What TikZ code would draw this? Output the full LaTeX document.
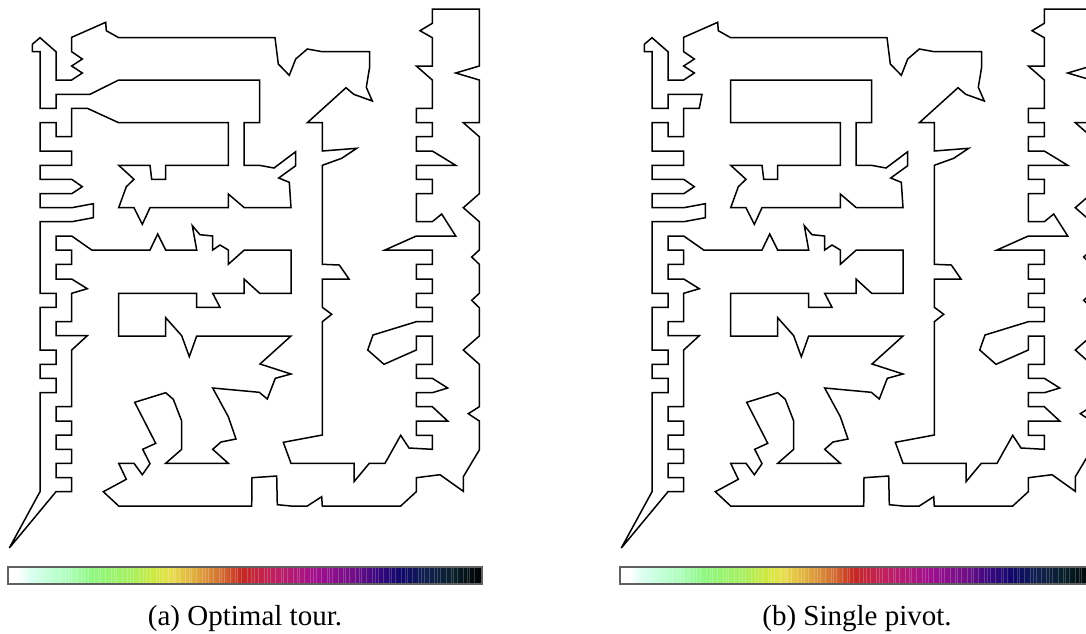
\documentclass[tikz,border=0pt]{standalone}
\usepackage{fontspec}
\setmainfont{Liberation Serif}
\pgfdeclarehorizontalshading{cbar}{100bp}{
rgb(0bp)=(1,1,1);rgb(25bp)=(1,1,1);rgb(26bp)=(1,1,1);
rgb(27.5bp)=(.85,1,.94);rgb(31.2bp)=(.69,1,.75);rgb(34bp)=(.56,.97,.5);rgb(38bp)=(.66,.94,.38);rgb(40.5bp)=(.82,.91,.25);
rgb(42bp)=(.91,.88,.31);rgb(44.5bp)=(.88,.69,.25);rgb(46.3bp)=(.85,.53,.22);rgb(48bp)=(.82,.38,.19);rgb(49.5bp)=(.78,.16,.13);
rgb(53bp)=(.75,.13,.38);rgb(57.5bp)=(.63,.06,.56);rgb(61.5bp)=(.44,.06,.53);rgb(64bp)=(.22,.03,.5);
rgb(66.5bp)=(.06,.03,.41);rgb(69bp)=(.06,.125,.31);rgb(72bp)=(.03,.125,.16);rgb(75bp)=(0,0,0);rgb(100bp)=(0,0,0)}
\tikzset{
 tourline/.style={line width=1.5pt,black},
 barframe/.style={draw=black!62,line width=1.1pt},
 capt/.style={font=\fontsize{29}{32}\selectfont,anchor=base,inner sep=0pt}
}
\def\tourA{(9.3,548)--(40,491.7)--(40,392.7)--(56,392.7)--(56,378.3)--(40,378.3)--(40,364.3)--(56,364.3)--(56,350)--(40,350)--(40,307.3)--(56,307.3)--(56,293.3)--(40,293.3)--(40,221.7)--(71.7,221.7)--(93.3,217.7)--(93.3,203.7)--(71.7,207.7)--(40,207.7)--(40,193.7)--(71.7,193.7)--(82.3,186.7)--(71.7,179.3)--(40,179.3)--(40,165.3)--(71.7,165.3)--(71.7,151)--(40,151)--(40,122.7)--(56,122.7)--(56,136.7)--(71.7,136.7)--(71.7,108.3)--(87.3,108.3)}
\def\tourB{(118.7,122.7)--(228.3,122.7)--(228.3,165.3)--(165.7,165.3)--(165.7,179.3)--(151.7,179.3)--(150,165.3)--(118.7,165.3)--(134,179.3)--(126.3,186.7)--(118.7,207.7)--(134,207.7)--(142.3,224.3)--(150,207.7)--(228.3,207.7)--(228.3,194)--(244.3,207.7)--(291,207.7)--(289.3,182.3)--(278.7,178)--(295.7,165.7)--(295.7,151.7)--(274,168)--(259.3,165.3)--(244,165.3)--(244,122.7)--(259.7,122.7)--(259.7,80)--(118.7,80)}
\def\tourC{(90,94.3)--(56,94.3)--(56,108.3)--(40,108.3)--(40,51.7)--(32.3,51.7)--(32.3,44.3)--(40,37.7)--(56,51.7)--(56,80)--(71.7,80)--(82.3,73)--(71.7,66)--(82.3,59)--(71.7,51.7)--(71.7,37.3)--(105.7,22.3)--(106.3,30.7)--(118.7,37.7)--(275,37.7)--(278.3,64)--(289.3,75.3)--(295.7,59)--(307.3,49)--(322.3,51.7)--(369.7,51.7)--(369.7,66.7)--(366.3,87.3)--(372.3,101)--(353.7,94.3)--(346,87.7)--(307.3,122.7)--(322.3,122.7)--(322.3,151)--(356.7,148.3)--(341.7,158.3)--(322.3,165.3)--(322.3,264.3)--(339.3,265)--(349,279)--(322.3,279)--(322.3,307.3)--(331.7,314.3)--(322.3,321.7)--(322.3,435)--(283.3,442.3)--(291,463.3)--(354,463.3)--(354,481.7)--(369.3,463.3)--(385,463.3)--(400.7,435.3)--(409,448)--(432.3,449.3)--(432.3,435.3)--(416.3,435.3)--(416.3,421)--(447.7,421)--(432.3,406.7)--(416.3,406.7)--(416.3,392.7)--(432.3,392.7)--(447.7,388)--(432.3,378.3)--(416.3,378.3)--(416.3,364.3)--(432.3,364.3)--(432.3,336)--(416.3,336)--(416.3,350)--(384,364.3)--(367.7,350)--(373,335)--(416.3,321.7)--(432.3,321.7)--(432.3,307.3)--(416.3,307.3)--(416.3,293.3)--(432.3,293.3)--(432.3,279)--(416.3,279)--(416.3,264.3)--(432.3,264.3)--(432.3,250)--(385,250)--(416.3,236)--(455.7,236)--(441.7,214)--(432.3,221.7)--(416.3,221.7)--(416.3,193.7)--(432.3,193.7)--(432.3,179.3)--(416.3,179.3)--(416.3,165.3)--(455.7,165.3)--(432.3,151)--(416.3,151)--(416.3,136.7)--(432.3,136.7)--(432.3,122.7)--(416.3,122.7)--(416.3,108.3)--(432.3,108.3)--(432.3,80)--(416.3,66)--(432.3,66)--(432.3,37.7)--(420,30.7)--(432.3,23.3)--(432.3,9)--(479.3,9)--(479.3,66)--(455.7,73)--(479.3,80)--(479.3,122.7)--(463.3,122.7)--(479.3,136.7)--(479.3,193.7)--(463.3,207.7)--(479.3,221.7)--(479.3,250)--(471.7,257)--(479.3,264.3)--(479.3,293.3)--(471.7,300.3)--(479.3,307.7)--(479.3,336)--(463.3,350)--(479.3,364.3)--(479.3,406.7)--(468.3,413.7)--(479.3,421)--(479.3,450)--(463.3,476.7)--(463.3,491.3)--(440,474.7)--(416.3,477.7)--(416.3,491.7)--(400.7,506)--(322.3,506)--(321.7,496.7)--(307.3,506)--(291,506)--(277.3,504.7)--(276.7,476)--(252,477.7)--(251.7,506)--(118.7,506)--(103.3,491.7)--(126.3,479.3)--(118.7,463.3)--(134,463.3)--(142.3,474.7)--(150,463.7)--(142.7,449.3)--(155.7,443.3)--(134.7,402.3)--(165.7,392.7)--(173.3,399.3)--(181.7,421)--(181.7,449.3)--(165.7,463.3)--(228.3,463.3)--(212.7,449.3)--(221,442)--(236,439)--(228.3,416.7)--(212.7,388)--(259.3,392.3)--(267.3,399)--(275.3,378.3)--(291,374)--(260,364)--(291,336)--(196.7,336)--(189.3,356.7)--(181.7,335.7)--(165.7,317.7)--(165.7,336)--(118.7,336)--(118.7,293.3)--(196.7,293.3)--(196.7,307.3)--(220,307.3)--(212.7,293.3)--(244,293.3)--(244,279)--(259.7,293.3)--(291,293.3)--(291,250)--(244.3,250)--(228.3,264.3)--(228.3,250)--(220,245)--(212.7,250)--(212.7,236)--(200,234.7)--(192.3,225.7)--(196.7,250)--(165.7,250)--(157.7,234)--(150,250)--(91.7,250)--(71.7,236)--(56,236)--(56,250)--(71.7,250)--(71.7,264.3)--(56,264.3)--(56,279)--(71.7,279)--(87.3,288.7)--(71.7,293.3)--(71.7,321.7)--(56,321.7)--(56,335.7)--(87.3,335.7)--(71.7,350)--(71.7,406.7)--(56,406.7)--(56,421)--(71.7,421)--(71.7,435)--(56,435)--(56,449.3)--(71.7,449.3)--(71.7,463.3)--(56,463.3)--(56,477.7)--(71.7,477.7)--(71.7,491.7)--(56,491.7)--cycle}
\newcommand{\colourbar}{%
 \shade[shading=cbar] (8,567) rectangle (482,584);
 \foreach \s in {0,...,100}{\draw[white,opacity=.2,line width=.8pt] ({60+\s*4.15+1.3*sin(\s*97)},567.5)--({60+\s*4.15+1.3*sin(\s*97)},583.5);}
 \draw[barframe] (8,567) rectangle (482,584);
}
\begin{document}
\begin{tikzpicture}[x=1pt,y=-1pt]
\useasboundingbox (0,0) rectangle (1086,633);
\clip (0,0) rectangle (1086,633);
\begin{scope}
 \draw[tourline] \tourA -- \tourB -- \tourC;
 \colourbar
 \node[capt] (capA) at (245,625) {(a) Optimal tour.};
\end{scope}
\begin{scope}[xshift=612pt]
 \draw[tourline] \tourA -- \tourC;
 \draw[tourline] \tourB -- cycle;
 \colourbar
 \node[capt] (capB) at (245,625) {(b) Single pivot.};
\end{scope}
\end{tikzpicture}
\end{document}
